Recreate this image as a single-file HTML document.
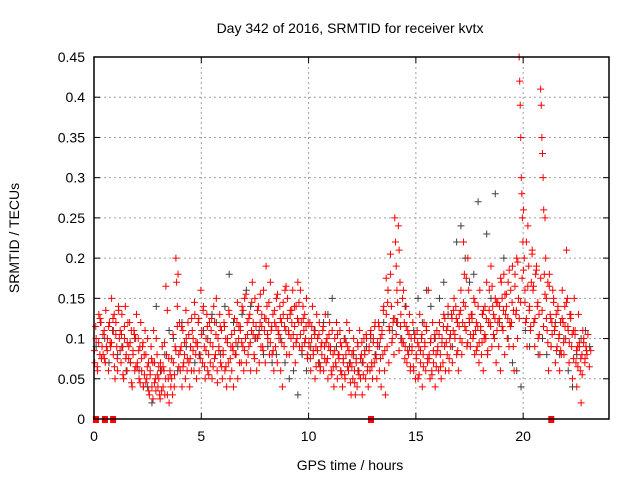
<!DOCTYPE html>
<html><head><meta charset="utf-8"><style>
body{margin:0;background:#fff;width:640px;height:480px;overflow:hidden}
svg{font-family:"Liberation Sans",sans-serif;font-size:14px}
</style></head><body>
<svg id="c" width="640" height="480" xmlns="http://www.w3.org/2000/svg"></svg>
<script>
// red series: bins of 0.2 h starting at 0, values in hundredths of TECU
const redBins = [
[7,10,6],[13,8,12,9],[8,11,7,9],[10,6,12,9],[15,11,8,13,5],[12,9,6,14,10],[11,7,13,9,5],[10,14,8,6,12],[9,12,7,11,4],[8,11,6,10,13],
[7,10,5,9,12],[6,9,4,8,11],[8,5,10,7,3],[6,9,4,7,11],[7,5,10,8,4],[5,3,7,6,9],[4,6,3,5,8],[3,5,2,6,4],[5,3,7,4,9],[20,17,14,18,8,12],
[6,9,4,11,7],[8,5,10,6,12],[7,4,9,6,11],[10,6,13,8,5],[9,12,6,8,16],[11,7,14,9,5],[10,13,6,8,12],[7,11,5,9,14],[12,8,15,6,10],[9,13,7,11,5],
[8,12,6,10,4],[10,7,13,5,9],[6,9,4,11,8],[8,12,5,10,7],[11,7,14,9,6],[15,10,7,12,8],[9,13,6,11,17],[12,8,15,10,6],[10,14,7,12,9],[13,9,16,11,7],
[19,14,10,12,8],[17,11,8,13,6],[12,9,15,7,11],[10,14,6,12,4],[13,9,16,11,8],[15,11,8,13,10],[12,16,9,14,7],[14,10,17,12,9],[16,12,9,14,11],[13,10,15,8,12],
[9,12,6,10,14],[8,11,5,9,13],[10,7,12,6,9],[8,11,6,9,13],[7,10,5,9,12],[9,6,11,8,4],[10,7,12,5,8],[8,11,6,9,4],[7,10,5,8,12],[9,6,11,7,3],
[8,5,10,6,3],[7,4,9,6,11],[5,8,3,7,10],[8,5,10,6,4],[9,6,11,7,5],[10,7,12,8,5],[9,12,6,10,4],[11,8,14,6,3],[13,9,16,7,11],[18,14,10,12,8],
[25,22,19,16,12,24],[21,17,13,10,15],[16,12,9,14,7],[11,8,13,6,10],[9,12,6,10,5],[8,11,5,9,13],[7,10,4,8,12],[9,6,11,7,16],[8,5,10,6,12],[7,10,4,8,11],
[9,6,12,8,5],[10,7,13,9,6],[11,8,14,6,10],[9,13,7,11,15],[10,14,8,12,6],[13,10,16,8,12],[22,18,14,11,9],[20,16,12,9,13],[13,10,15,8,11],[12,9,14,7,16],
[11,8,13,6,10],[14,10,17,8,12],[16,12,19,9,14],[13,10,15,7,11],[12,9,14,6,17],[15,11,18,8,13],[14,10,17,9,12],[16,12,19,9,6],[18,13,20,10,15],[45,42,39,35,30,28,25,22],
[26,20,16,12,22,9],[24,19,14,11,17],[21,16,12,9,18],[19,14,10,13,8],[41,39,35,33,30,26,18],[25,20,15,11,17,6],[18,13,9,12,16],[15,11,7,13,9],[14,10,6,12,8],[16,12,8,14,10],
[21,15,11,7,13],[13,9,5,11,15],[11,7,4,9,13],[9,6,2,8,11],[10,7,9,8]
];
// second red set: bins of 0.4 h, hundredths
const redBins2 = [
[8.5,11.5,6.5,9.5,12.5,7.5],[10.5,7.5,13.5,8.5,11.5,9.5],[9.5,12.5,6.5,10.5,7.5,13.5],[8.5,10.5,5.5,11.5,7.5,9.5],[7.5,9.5,4.5,8.5,10.5,6.5],[6.5,8.5,4.5,7.5,9.5,5.5],
[4.5,6.5,3.5,5.5,7.5,2.5],[4.5,3.5,5.5,6.5,2.5,3.5],[6.5,9.5,16.5,13.5,7.5,5.5],[7.5,10.5,5.5,8.5,11.5,6.5],[8.5,11.5,6.5,9.5,13.5,7.5],[10.5,7.5,12.5,8.5,14.5,9.5],
[9.5,12.5,7.5,10.5,13.5,6.5],[8.5,11.5,5.5,9.5,12.5,6.5],[7.5,10.5,4.5,8.5,11.5,6.5],[8.5,11.5,6.5,9.5,13.5,7.5],[10.5,8.5,12.5,9.5,14.5,11.5],[11.5,9.5,13.5,8.5,15.5,10.5],
[12.5,9.5,14.5,10.5,7.5,11.5],[13.5,10.5,15.5,11.5,8.5,12.5],[12.5,10.5,14.5,9.5,11.5,8.5],[13.5,11.5,15.5,10.5,12.5,9.5],[14.5,11.5,16.5,12.5,10.5,13.5],[13.5,10.5,11.5,9.5,12.5,14.5],
[10.5,8.5,12.5,9.5,11.5,7.5],[9.5,7.5,11.5,8.5,10.5,6.5],[8.5,10.5,6.5,9.5,11.5,7.5],[9.5,7.5,10.5,8.5,5.5,6.5],[8.5,6.5,10.5,7.5,9.5,5.5],[7.5,5.5,9.5,6.5,8.5,4.5],
[6.5,8.5,4.5,7.5,9.5,5.5],[7.5,9.5,5.5,8.5,10.5,6.5],[8.5,10.5,6.5,9.5,11.5,7.5],[9.5,11.5,7.5,10.5,13.5,8.5],[17.5,14.5,11.5,20.5,9.5,12.5],[12.5,10.5,14.5,8.5,11.5,9.5],
[9.5,7.5,11.5,8.5,10.5,6.5],[8.5,6.5,10.5,7.5,9.5,5.5],[8.5,10.5,6.5,9.5,11.5,7.5],[7.5,9.5,5.5,8.5,10.5,6.5],[8.5,10.5,6.5,9.5,11.5,12.5],[9.5,11.5,7.5,10.5,12.5,13.5],
[10.5,12.5,8.5,11.5,13.5,9.5],[14.5,11.5,17.5,9.5,12.5,10.5],[12.5,10.5,14.5,8.5,11.5,9.5],[11.5,9.5,13.5,10.5,12.5,8.5],[13.5,11.5,16.5,10.5,12.5,14.5],[14.5,12.5,17.5,11.5,13.5,15.5],
[15.5,12.5,18.5,11.5,14.5,13.5],[16.5,13.5,19.5,12.5,14.5,17.5],[18.5,14.5,12.5,16.5,13.5,11.5],[20.5,16.5,12.5,18.5,14.5,10.5],[17.5,13.5,11.5,15.5,12.5,9.5],[16.5,12.5,10.5,14.5,11.5,8.5],
[13.5,10.5,8.5,12.5,9.5,11.5],[14.5,11.5,9.5,12.5,10.5,7.5],[10.5,8.5,6.5,9.5,7.5,5.5],[9.5,7.5,8.5,10.5,6.5,8.5]
];
// grey series: bins of 0.4 h
const greyBins = [
[9,12],[10,7],[11,8],[9,6],[7,10],[6,4],[4,2],[14,6],[8,11],[10,6],[12,9],[9,7],[8,11],[10,13],[12,8],
[14,18],[12,9],[13,16],[14,10],[11,8],[9,7],[8,10],[7,5],[6,3],[8,6],[9,11],[7,12],[13,15],[9,6],[10,7],
[8,6],[7,9],[10,8],[9,12],[16,11],[12,10],[14,9],[11,15],[12,16],[14,10],[15,17],[13,9],[22,24],[20,17],[18,27],
[13,23],[15,28],[12,20],[10,7],[6,4],[11,9],[12,8],[10,8],[9,12],[8,10],[6,4],[8,10],[11,9]
];
const squareTimes = [0.09,0.51,0.89,12.91,21.31];
const xTicks = [0,5,10,15,20];
const yTicks = [0,0.05,0.1,0.15,0.2,0.25,0.3,0.35,0.4,0.45];

const L=94,R=609,T=57,B=419,XMAX=24,YMAX=0.45;
const sx=t=>L+t/XMAX*(R-L), sy=v=>B-v/YMAX*(B-T);
const svg=document.getElementById('c'), NS='http://www.w3.org/2000/svg';
function mk(tag,attrs,parent){const e=document.createElementNS(NS,tag);for(const k in attrs)e.setAttribute(k,attrs[k]);(parent||svg).appendChild(e);return e;}

const grid=mk('g',{});


yTicks.forEach((v,i)=>{
  const y=sy(v);
  if(i>0&&i<yTicks.length-1){const g=mk('line',{x1:L,x2:R,y1:y,y2:y,stroke:'#a0a0a0','stroke-dasharray':'2,3','stroke-width':1},grid);}
  const tk=mk('line',{x1:L,x2:L+6,y1:y,y2:y,stroke:'#000'});
  const tk2=mk('line',{x1:R,x2:R-6,y1:y,y2:y,stroke:'#000'});
  const t=mk('text',{x:L-9,y:y+5,'text-anchor':'end',fill:'#000'});t.textContent=String(v);
  
});
xTicks.forEach((v,i)=>{
  const x=sx(v);
  if(i>0){const g=mk('line',{x1:x,x2:x,y1:T,y2:B,stroke:'#a0a0a0','stroke-dasharray':'2,3','stroke-width':1},grid);}
  const tk=mk('line',{x1:x,x2:x,y1:B,y2:B-6,stroke:'#000'});
  const tk2=mk('line',{x1:x,x2:x,y1:T,y2:T+6,stroke:'#000'});
  const t=mk('text',{x:x,y:B+22,'text-anchor':'middle',fill:'#000'});t.textContent=String(v);
  
});

function plus(t,v,color,name){
  const x=sx(t),y=sy(v);
  const p=mk('path',{d:`M${x-3.5} ${y}h7M${x} ${y-3.5}v7`,stroke:color,'stroke-width':1,fill:'none'});
  
  
}
greyBins.forEach((vals,i)=>vals.forEach((v,k)=>plus(i*0.4+(k+0.5)*0.4/vals.length,v/100,'#404040','grey-point')));
redBins2.forEach((vals,i)=>vals.forEach((v,k)=>plus(i*0.4+(k+0.25)*0.4/vals.length,v/100,'#ff0000','red-point')));
redBins.forEach((vals,i)=>vals.forEach((v,k)=>plus(i*0.2+(k+0.5)*0.2/vals.length,v/100,'#ff0000','red-point')));
squareTimes.forEach(t=>{
  const r=mk('rect',{x:sx(t)-3,y:B-3,width:6,height:7,fill:'#ff0000'});
  
  
});

const frame=mk('rect',{x:L,y:T,width:R-L,height:B-T,fill:'none',stroke:'#000','stroke-width':1.5});


const title=mk('text',{x:350,y:33,'text-anchor':'middle',fill:'#000'});title.textContent='Day 342 of 2016, SRMTID for receiver kvtx';


const xl=mk('text',{x:350,y:470,'text-anchor':'middle',fill:'#000'});xl.textContent='GPS time / hours';


const yl=mk('text',{x:0,y:0,'text-anchor':'middle',fill:'#000',transform:'translate(19,238) rotate(-90)'});yl.textContent='SRMTID / TECUs';


</script>
</body></html>
